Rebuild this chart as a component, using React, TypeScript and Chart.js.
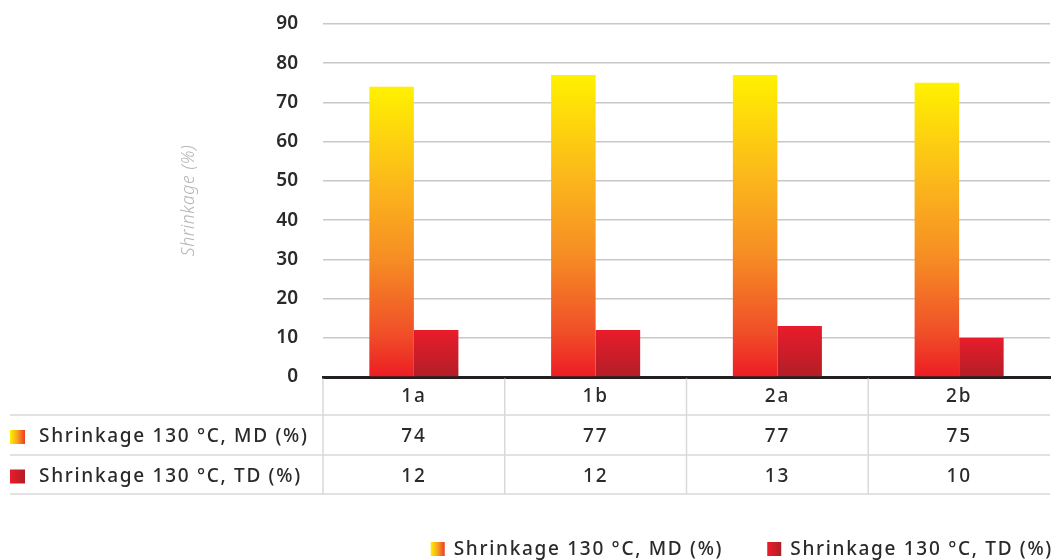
import React, { useEffect, useRef } from "react";
import { Chart, registerables } from "chart.js";

Chart.register(...registerables);

const categories = ["1a", "1b", "2a", "2b"];
const mdLabel = "Shrinkage 130 °C, MD (%)";
const tdLabel = "Shrinkage 130 °C, TD (%)";
const mdValues = [74, 77, 77, 75];
const tdValues = [12, 12, 13, 10];
const yMin = 0;
const yMax = 90;
const yStep = 10;
const yTitle = "Shrinkage (%)";

const FONT = "'Noto Sans', sans-serif";
const TEXT = "#2b2a2b";

function mdVertical(c: CanvasRenderingContext2D, top: number, bottom: number) {
  const g = c.createLinearGradient(0, top, 0, bottom);
  g.addColorStop(0, "#fff100");
  g.addColorStop(0.35, "#fbb51c");
  g.addColorStop(0.6, "#f68c24");
  g.addColorStop(0.85, "#f04f28");
  g.addColorStop(1, "#ed1c24");
  return g;
}
function tdVertical(c: CanvasRenderingContext2D, top: number, bottom: number) {
  const g = c.createLinearGradient(0, top, 0, bottom);
  g.addColorStop(0, "#e91c2b");
  g.addColorStop(1, "#b21e27");
  return g;
}
function mdHorizontal(c: CanvasRenderingContext2D, x: number, w: number) {
  const g = c.createLinearGradient(x, 0, x + w, 0);
  g.addColorStop(0, "#fff100");
  g.addColorStop(0.5, "#f7a21f");
  g.addColorStop(1, "#ee3a24");
  return g;
}
function tdHorizontal(c: CanvasRenderingContext2D, x: number, w: number) {
  const g = c.createLinearGradient(x, 0, x + w, 0);
  g.addColorStop(0, "#ec1c2a");
  g.addColorStop(1, "#b01e27");
  return g;
}

const tablePlugin = {
  id: "tablePlugin",
  afterDraw(chart: any) {
    const c: CanvasRenderingContext2D = chart.ctx;
    const area = chart.chartArea;
    const xs = chart.scales.x;
    const n = categories.length;
    const colW = (xs.right - xs.left) / n;
    const top = area.bottom;
    const rows = [top, top + 38, top + 78, top + 117];
    c.save();
    // lines
    c.strokeStyle = "#d9d9d9";
    c.lineWidth = 1.5;
    for (let r = 1; r < rows.length; r++) {
      c.beginPath();
      c.moveTo(10, rows[r]);
      c.lineTo(xs.right, rows[r]);
      c.stroke();
    }
    for (let i = 0; i < n; i++) {
      const x = xs.left + i * colW;
      c.beginPath();
      c.moveTo(x, top + 1.5);
      c.lineTo(x, rows[3]);
      c.stroke();
    }
    // text
    c.fillStyle = TEXT;
    c.textAlign = "center";
    c.textBaseline = "middle";
    c.font = `500 19px ${FONT}`;
    (c as any).letterSpacing = "1.7px";
    for (let i = 0; i < n; i++) {
      const cx = xs.getPixelForValue(i);
      c.fillText(categories[i], cx, (rows[0] + rows[1]) / 2 + 1);
      c.fillText(String(mdValues[i]), cx, (rows[1] + rows[2]) / 2 + 2);
      c.fillText(String(tdValues[i]), cx, (rows[2] + rows[3]) / 2 + 2);
    }
    // row labels
    c.textAlign = "left";
    const r1 = (rows[1] + rows[2]) / 2;
    const r2 = (rows[2] + rows[3]) / 2;
    c.fillStyle = mdHorizontal(c, 10, 15);
    c.fillRect(10, r1 - 5, 15, 14);
    c.fillStyle = tdHorizontal(c, 10, 15);
    c.fillRect(10, r2 - 5, 15, 14);
    c.fillStyle = TEXT;
    c.fillText(mdLabel, 39, r1 + 2);
    c.fillText(tdLabel, 39, r2 + 2);

    // legend
    const ly = 549;
    const w2 = c.measureText(tdLabel).width;
    const w1 = c.measureText(mdLabel).width;
    const right = xs.right + 3;
    const t2x = right - w2;
    const b2x = t2x - 23;
    const t1x = b2x - 44 - w1;
    const b1x = t1x - 23;
    c.fillStyle = mdHorizontal(c, b1x, 14);
    c.fillRect(b1x, ly - 7, 14, 14);
    c.fillStyle = tdHorizontal(c, b2x, 14);
    c.fillRect(b2x, ly - 7, 14, 14);
    c.fillStyle = TEXT;
    c.fillText(mdLabel, t1x, ly + 1);
    c.fillText(tdLabel, t2x, ly + 1);

    // y title
    (c as any).letterSpacing = "0.6px";
    c.translate(189, (area.top + area.bottom) / 2);
    c.rotate(-Math.PI / 2);
    c.textAlign = "center";
    c.fillStyle = "#b4b4b4";
    c.font = `italic 300 17.5px ${FONT}`;
    c.fillText(yTitle, 0, 0);
    c.restore();
  },
};

export default function App() {
  const ref = useRef<HTMLCanvasElement | null>(null);
  useEffect(() => {
    if (!ref.current) return;
    const chart = new Chart(ref.current, {
      type: "bar",
      data: {
        labels: categories,
        datasets: [
          {
            label: mdLabel,
            data: mdValues,
            backgroundColor: (ctx: any) => {
              const ch = ctx.chart;
              const a = ch.chartArea;
              if (!a || ctx.raw == null) return "#f7a21f";
              const top = ch.scales.y.getPixelForValue(ctx.raw);
              return mdVertical(ch.ctx, top, a.bottom);
            },
            borderWidth: 0,
            categoryPercentage: 0.49,
            barPercentage: 1.0,
          },
          {
            label: tdLabel,
            data: tdValues,
            backgroundColor: (ctx: any) => {
              const ch = ctx.chart;
              const a = ch.chartArea;
              if (!a || ctx.raw == null) return "#d21e28";
              const top = ch.scales.y.getPixelForValue(ctx.raw);
              return tdVertical(ch.ctx, top, a.bottom);
            },
            borderWidth: 0,
            categoryPercentage: 0.49,
            barPercentage: 1.0,
          },
        ],
      },
      options: {
        responsive: false,
        animation: false,
        layout: { padding: { left: 0, right: 5, top: 24, bottom: 65 } },
        plugins: {
          legend: { display: false },
          tooltip: { enabled: false },
        },
        scales: {
          x: {
            grid: { display: false, drawTicks: false },
            ticks: { display: false },
            border: { display: true, color: "#231f20", width: 3 },
            afterFit: (s: any) => {
              s.height = 118;
            },
          },
          y: {
            min: yMin,
            max: yMax,
            ticks: {
              stepSize: yStep,
              padding: 25,
              color: TEXT,
              font: { family: FONT, size: 19, weight: "600" },
            },
            grid: {
              drawTicks: false,
              lineWidth: 1.5,
              color: (ctx: any) => (ctx.tick && ctx.tick.value === 0 ? "rgba(0,0,0,0)" : "#c8c8c8"),
            },
            border: { display: false },
            afterFit: (s: any) => {
              s.width = 323;
              s.paddingTop = 0;
              s.paddingBottom = 0;
            },
          },
        },
      },
      plugins: [tablePlugin],
    } as any);
    return () => chart.destroy();
  }, []);
  return (
    <div style={{ position: "absolute", left: 0, top: 0, width: 1055, height: 560, background: "#fff" }}>
      <canvas ref={ref} width={1055} height={560} />
    </div>
  );
}
